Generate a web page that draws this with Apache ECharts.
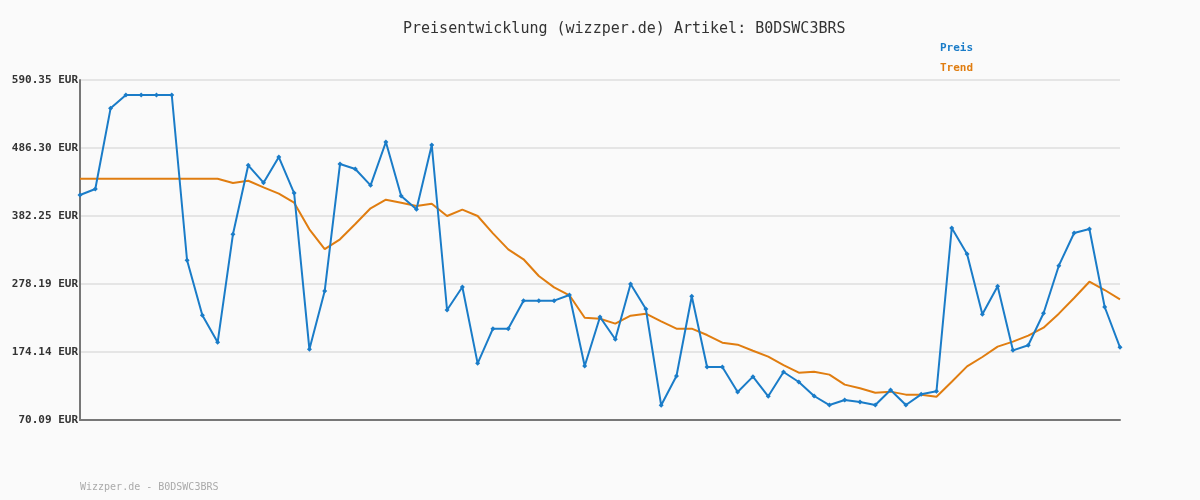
<!DOCTYPE html>
<html>
<head>
<meta charset="utf-8">
<script src="https://cdn.jsdelivr.net/npm/echarts@6/dist/echarts.min.js"></script>
<style>html,body{margin:0;padding:0;background:#fafafa;}#c{width:1200px;height:500px;}</style>
</head>
<body>
<div id="c"></div>
<script>
const categories = Array.from({length: 69}, (_, i) => String(i + 1));
const preis = [414.4, 423.6, 547.0, 567.4, 567.4, 567.4, 567.4, 314.5, 230.3, 189.0,
  354.2, 459.8, 433.2, 472.5, 417.4, 178.3, 267.5, 461.8, 454.2, 429.2,
  495.5, 412.8, 392.5, 490.9, 238.4, 273.6, 156.8, 209.8, 209.8, 252.7,
  252.7, 252.7, 261.4, 152.7, 227.7, 193.6, 278.2, 239.9, 92.6, 137.4,
  259.4, 151.2, 151.2, 113.0, 136.4, 106.4, 143.5, 128.2, 106.8, 93.0,
  100.7, 97.6, 93.0, 116.0, 93.0, 109.4, 114.0, 363.9, 324.1, 231.8,
  274.7, 176.7, 184.4, 233.4, 306.2, 356.2, 362.4, 243.0, 181.3];
const trend = [439.3, 439.3, 439.3, 439.3, 439.3, 439.3, 439.3, 439.3, 439.3, 439.3,
  432.7, 436.2, 426.1, 416.4, 402.6, 361.9, 331.7, 346.6, 370.0, 394.0,
  407.2, 402.6, 397.5, 401.1, 382.2, 391.9, 382.2, 355.7, 331.2, 316.0,
  290.4, 273.1, 260.9, 226.6, 225.1, 217.5, 229.7, 232.8, 221.1, 209.8,
  209.8, 200.1, 188.4, 185.4, 176.1, 167.0, 154.2, 142.5, 144.0, 139.5,
  124.2, 118.6, 111.9, 113.5, 108.9, 108.9, 105.8, 128.7, 152.2, 166.5,
  182.3, 190.0, 199.2, 211.4, 232.8, 256.8, 281.7, 269.0, 254.8];
const yTicks = [70.09, 174.14, 278.19, 382.25, 486.30, 590.35];

const blue = '#1a7cc8';
const orange = '#e07d10';
const mono = '"DejaVu Sans Mono", monospace';

const chart = echarts.init(document.getElementById('c'), null, {renderer: 'canvas'});
chart.setOption({
  backgroundColor: '#fafafa',
  animation: false,
  title: {
    text: 'Preisentwicklung (wizzper.de) Artikel: B0DSWC3BRS',
    left: 398, top: 17,
    textStyle: {fontFamily: mono, fontSize: 15, fontWeight: 'normal', color: '#333'}
  },
  legend: {
    orient: 'vertical', left: 930, top: 36, itemGap: 8,
    icon: 'none', itemWidth: 0, itemHeight: 14,
    data: [
      {name: 'Preis', textStyle: {color: blue}},
      {name: 'Trend', textStyle: {color: orange}}
    ],
    textStyle: {fontFamily: mono, fontSize: 11, fontWeight: 'bold'}
  },
  grid: {left: 80, right: 80, top: 80, bottom: 80, containLabel: false},
  xAxis: {
    type: 'category', data: categories, boundaryGap: false,
    axisLine: {lineStyle: {color: '#777', width: 2}},
    axisTick: {show: false}, axisLabel: {show: false}, splitLine: {show: false}
  },
  yAxis: {
    type: 'value', min: yTicks[0], max: yTicks[yTicks.length - 1],
    axisLine: {show: true, lineStyle: {color: '#777', width: 2}},
    axisTick: {show: false, customValues: yTicks},
    axisLabel: {
      customValues: yTicks, margin: 2,
      formatter: v => v.toFixed(2) + ' EUR',
      fontFamily: mono, fontSize: 11, fontWeight: 'bold', color: '#333'
    },
    splitLine: {show: true, lineStyle: {color: '#e5e5e5', width: 2}}
  },
  series: [
    {
      name: 'Preis', type: 'line', data: preis,
      symbol: 'diamond', symbolSize: 5, showSymbol: true,
      lineStyle: {color: blue, width: 2}, itemStyle: {color: blue}, z: 3
    },
    {
      name: 'Trend', type: 'line', data: trend,
      symbol: 'none',
      lineStyle: {color: orange, width: 2}, itemStyle: {color: orange}, z: 2
    }
  ],
  graphic: [{
    type: 'text', left: 80, top: 482,
    style: {text: 'Wizzper.de - B0DSWC3BRS', fill: '#aaa', font: '10px ' + mono}
  }]
});
</script>
</body>
</html>
